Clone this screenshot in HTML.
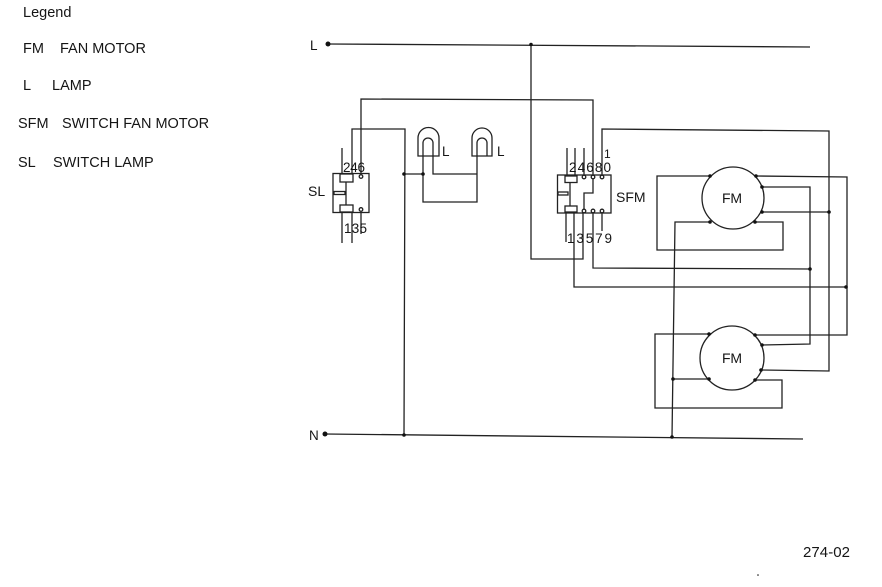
<!DOCTYPE html>
<html><head><meta charset="utf-8"><style>
html,body{margin:0;padding:0;background:#fff;}
svg{display:block;}
text{font-family:"Liberation Sans",Arial,sans-serif;fill:#151515;}
</style></head><body>
<svg width="882" height="587" viewBox="0 0 882 587" xmlns="http://www.w3.org/2000/svg">
<g font-size="14.5">
<text x="23" y="17">Legend</text>
<text x="23" y="53">FM</text><text x="60" y="53">FAN MOTOR</text>
<text x="23" y="90">L</text><text x="52" y="90">LAMP</text>
<text x="18" y="128">SFM</text><text x="62" y="128">SWITCH FAN MOTOR</text>
<text x="18" y="167">SL</text><text x="53" y="167">SWITCH LAMP</text>
</g>
<text x="803" y="557" font-size="15" textLength="47">274-02</text>

<g stroke="#222" stroke-width="1.3" fill="none">
<!-- L and N rails -->
<polyline points="328,44 810,47"/>
<polyline points="325,434 803,439"/>
<!-- SL switch -->
<rect x="333" y="173.5" width="36" height="39"/>
<rect x="340" y="174" width="13" height="8" fill="#fff"/>
<rect x="340" y="205" width="13" height="7" fill="#fff"/>
<rect x="334" y="191.5" width="11" height="3"/>
<line x1="346" y1="182" x2="346" y2="205"/>
<line x1="342" y1="148" x2="342" y2="173.5"/>
<polyline points="352,174 352,129 405,129 404,435"/>
<polyline points="361,174 361,99 593,100 593,175"/>
<circle cx="361" cy="176.5" r="1.8" fill="#fff"/>
<circle cx="361" cy="209.5" r="1.8" fill="#fff"/>
<line x1="342" y1="212" x2="342" y2="243"/>
<line x1="352" y1="212" x2="352" y2="243"/>
<line x1="361" y1="212" x2="361" y2="234"/>
<!-- Lamps -->
<path d="M418,156 L418,138 A10.5,10.5 0 0 1 439,138 L439,156 Z"/>
<path d="M423,156 L423,143 A5,5 0 0 1 433,143 L433,156"/>
<path d="M472,156 L472,138 A10,10 0 0 1 492,138 L492,156 Z"/>
<path d="M477,156 L477,143 A5,5 0 0 1 487,143 L487,156"/>
<polyline points="404,174 423,174"/>
<polyline points="423,156 423,202 477,202 477,156"/>
<polyline points="433,156 433,174 477,174"/>
<!-- SFM switch -->
<rect x="557.5" y="175" width="53.5" height="38"/>
<rect x="565" y="176" width="12" height="6.5" fill="#fff"/>
<rect x="565" y="206" width="12" height="6" fill="#fff"/>
<rect x="558" y="192" width="10" height="3"/>
<line x1="570" y1="182.5" x2="570" y2="206"/>
<polyline points="593,178 593,193 584,193 584,210"/>
<line x1="567" y1="148" x2="567" y2="176"/>
<line x1="575" y1="148" x2="575" y2="176"/>
<line x1="584" y1="148" x2="584" y2="175"/>
<polyline points="602,175 602,129 829,131 829,371 761,370"/>
<circle cx="584" cy="177" r="1.8" fill="#fff"/>
<circle cx="593" cy="177" r="1.8" fill="#fff"/>
<circle cx="602" cy="177" r="1.8" fill="#fff"/>
<circle cx="584" cy="211" r="1.8" fill="#fff"/>
<circle cx="593" cy="211" r="1.8" fill="#fff"/>
<circle cx="602" cy="211" r="1.8" fill="#fff"/>
<line x1="566" y1="213" x2="566" y2="242"/>
<polyline points="574,213 574,287 847,287"/>
<polyline points="583,213 583,259 531,259 531,44"/>
<polyline points="593,213 593,268 810,269"/>
<line x1="602" y1="213" x2="602" y2="231"/>
<!-- Motor 1 -->
<circle cx="733" cy="198" r="31"/>
<polyline points="710,176 657,176 657,250 783,250 783,222 755,222"/>
<polyline points="710,222 675,222 672,437"/>
<polyline points="756,176 847,177 847,335 755,335"/>
<polyline points="762,187 810,187 810,344 762,345"/>
<polyline points="762,212 829,212"/>
<!-- Motor 2 -->
<circle cx="732" cy="358" r="32"/>
<polyline points="709,334 655,334 655,408 782,408 782,380 755,380"/>
<polyline points="709,379 673,379"/>
</g>

<g fill="#111">
<circle cx="328" cy="44" r="2.5"/>
<circle cx="325" cy="434" r="2.5"/>
<circle cx="531" cy="44.5" r="1.8"/>
<circle cx="404" cy="435" r="1.8"/>
<circle cx="672" cy="437" r="1.8"/>
<circle cx="404" cy="174" r="1.8"/>
<circle cx="423" cy="174" r="1.8"/>
<circle cx="710" cy="176" r="1.8"/>
<circle cx="756" cy="176" r="1.8"/>
<circle cx="762" cy="187" r="1.8"/>
<circle cx="762" cy="212" r="1.8"/>
<circle cx="755" cy="222" r="1.8"/>
<circle cx="710" cy="222" r="1.8"/>
<circle cx="829" cy="212" r="1.8"/>
<circle cx="810" cy="269" r="1.8"/>
<circle cx="846" cy="287" r="1.8"/>
<circle cx="709" cy="334" r="1.8"/>
<circle cx="755" cy="335" r="1.8"/>
<circle cx="762" cy="345" r="1.8"/>
<circle cx="761" cy="370" r="1.8"/>
<circle cx="755" cy="380" r="1.8"/>
<circle cx="709" cy="379" r="1.8"/>
<circle cx="673" cy="379" r="1.8"/>
<circle cx="758" cy="575" r="0.8"/>
</g>

<g font-size="13.5">
<text x="310" y="50">L</text>
<text x="309" y="440">N</text>
<text x="308" y="196" font-size="14">SL</text>
<text x="343" y="172" textLength="22">246</text>
<text x="344" y="233" textLength="23">135</text>
<text x="442" y="156">L</text>
<text x="497" y="156">L</text>
<text x="616" y="202" font-size="14">SFM</text>
<text x="569" y="172" textLength="42">24680</text>
<text x="604" y="158" font-size="12">1</text>
<text x="567" y="243" textLength="45">13579</text>
<text x="722" y="203" font-size="14" textLength="20">FM</text>
<text x="722" y="363" font-size="14" textLength="20">FM</text>
</g>
</svg>
</body></html>
